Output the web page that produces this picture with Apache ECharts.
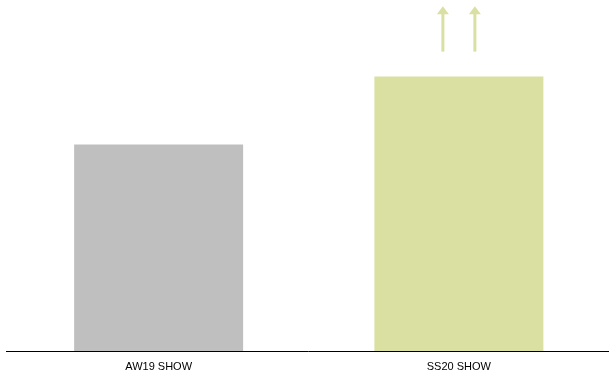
<!DOCTYPE html>
<html><head><meta charset="utf-8">
<script src="https://cdn.jsdelivr.net/npm/echarts@6/dist/echarts.min.js"></script>
<style>html,body{margin:0;padding:0;background:#fff}#c{width:609px;height:379px}</style>
</head><body><div id="c"></div>
<script>
var categories = ['AW19 SHOW', 'SS20 SHOW'];
var values = [100, 133];
var barColors = ['#bfbfbf', '#d9e0a2'];
var arrowFrom = 145;
var arrowTo = 167;

var chart = echarts.init(document.getElementById('c'));
chart.setOption({
  animation: false,
  grid: {left: 8.5, right: -3.5, top: 0, bottom: 28},
  xAxis: {
    type: 'category', data: categories,
    axisLine: {lineStyle: {color: '#000', width: 1}},
    axisTick: {show: false},
    axisLabel: {color: '#000', fontFamily: 'Liberation Sans', fontSize: 11, margin: 10}
  },
  yAxis: {type: 'value', min: 0, max: 170, show: false, splitLine: {show: false}},
  series: [{
    type: 'bar', barWidth: 169,
    data: values.map(function (v, i) { return {value: v, itemStyle: {color: barColors[i]}}; })
  }]
});

var base = chart.convertToPixel({gridIndex: 0}, [1, arrowFrom]);
var tip = chart.convertToPixel({gridIndex: 0}, [1, arrowTo]);
var g = [];
[-16, 16].forEach(function (dx) {
  var x = base[0] + dx;
  g.push({type: 'line', shape: {x1: x, y1: base[1], x2: x, y2: tip[1] + 7},
    style: {stroke: '#d9e0a2', lineWidth: 3}});
  g.push({type: 'polygon', shape: {points: [[x, tip[1]], [x - 6, tip[1] + 8], [x + 6, tip[1] + 8]]},
    style: {fill: '#d9e0a2'}});
});
chart.setOption({graphic: [{type: 'line', shape: {x1: 6, y1: 351.5, x2: 9, y2: 351.5}, style: {stroke: '#000', lineWidth: 1}}].concat(g)});
</script></body></html>
